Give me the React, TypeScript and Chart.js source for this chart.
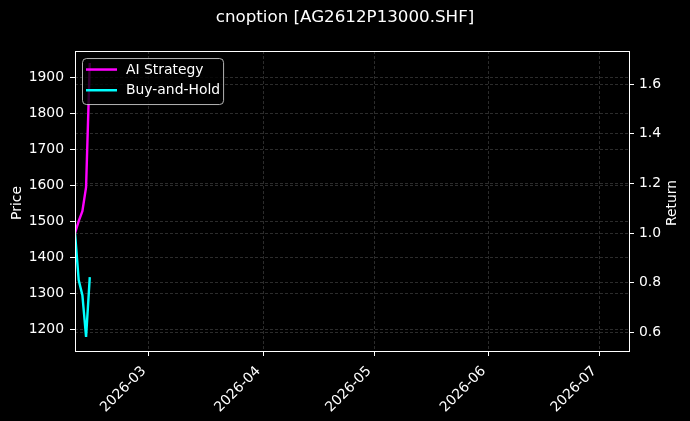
import React, { useEffect, useRef } from 'react';
import { Chart, registerables } from 'chart.js';

Chart.register(...registerables);

const TITLE = 'cnoption [AG2612P13000.SHF]';
const PRICE_LABEL = 'Price';
const RETURN_LABEL = 'Return';

// daily closes
const dates = ['2026-02-09', '2026-02-10', '2026-02-11', '2026-02-12', '2026-02-13'];
const aiStrategy = [1.0, 1.048, 1.088, 1.185, 1.685]; // return axis (right)
const buyAndHold = [1468, 1337, 1295, 1179, 1345]; // price axis (left)

const monthTicks = ['2026-03', '2026-04', '2026-05', '2026-06', '2026-07'];
const priceTicks = [1200, 1300, 1400, 1500, 1600, 1700, 1800, 1900];
const returnTicks = [0.6, 0.8, 1.0, 1.2, 1.4, 1.6];
const xRange = ['2026-02-09', '2026-07-09'];
const priceRange = [1140, 1973];
const returnRange = [0.525, 1.733];

const FONT = '"DejaVu Sans", sans-serif';
const DAY = 86400000;
const toDay = (s: string) => Date.parse(s.length === 7 ? s + '-01' : s) / DAY;

// spines, axis titles and an in-plot legend like matplotlib draws them
const framePlugin = {
  id: 'frame',
  afterDatasetsDraw(chart: any) {
    const { ctx, chartArea: a } = chart;
    ctx.save();
    ctx.strokeStyle = '#ffffff';
    ctx.lineWidth = 1;
    ctx.strokeRect(Math.round(a.left) + 0.5, Math.round(a.top) + 0.5,
      Math.round(a.right) - Math.round(a.left), Math.round(a.bottom) - Math.round(a.top));
    ctx.restore();
  },
  afterDraw(chart: any) {
    const { ctx, chartArea: a, width } = chart;
    const midY = (a.top + a.bottom) / 2 + 2;
    ctx.save();
    ctx.fillStyle = '#ffffff';
    ctx.font = `13.9px ${FONT}`;
    ctx.textAlign = 'center';
    ctx.textBaseline = 'middle';
    ctx.translate(17, midY);
    ctx.rotate(-Math.PI / 2);
    ctx.fillText(PRICE_LABEL, 0, 0);
    ctx.restore();

    ctx.save();
    ctx.fillStyle = '#ffffff';
    ctx.font = `13.9px ${FONT}`;
    ctx.textAlign = 'center';
    ctx.textBaseline = 'middle';
    ctx.translate(width - 18, midY);
    ctx.rotate(-Math.PI / 2);
    ctx.fillText(RETURN_LABEL, 0, 0);
    ctx.restore();

    // legend
    const sets = chart.data.datasets;
    ctx.save();
    ctx.font = `13.9px ${FONT}`;
    const textW = Math.max(...sets.map((d: any) => ctx.measureText(d.label).width));
    const bx = a.left + 7;
    const by = a.top + 7;
    const bw = 44 + textW + 3;
    const bh = 46;
    ctx.beginPath();
    ctx.roundRect(bx + 0.5, by + 0.5, bw, bh, 4);
    ctx.fillStyle = 'rgba(0,0,0,0.8)';
    ctx.fill();
    ctx.strokeStyle = 'rgba(210,210,210,0.85)';
    ctx.lineWidth = 1;
    ctx.stroke();
    sets.forEach((d: any, i: number) => {
      const y = by + 11.5 + i * 20.7;
      ctx.strokeStyle = d.borderColor;
      ctx.lineWidth = 2.5;
      ctx.beginPath();
      ctx.moveTo(bx + 4, y);
      ctx.lineTo(bx + 35, y);
      ctx.stroke();
      ctx.fillStyle = '#ffffff';
      ctx.textAlign = 'left';
      ctx.textBaseline = 'middle';
      ctx.fillText(d.label, bx + 44, y + 0.5);
    });
    ctx.restore();
  },
};

const gridOpts = {
  color: 'rgba(255,255,255,0.22)',
  lineWidth: 0.8,
  tickColor: '#ffffff',
  tickLength: 5,
  tickWidth: 1,
};

export default function App() {
  const canvasRef = useRef<HTMLCanvasElement>(null);
  const chartRef = useRef<Chart | null>(null);

  useEffect(() => {
    if (!canvasRef.current) return;
    if (chartRef.current) chartRef.current.destroy();

    const ctx = canvasRef.current.getContext('2d');
    if (!ctx) return;

    chartRef.current = new Chart(ctx, {
      type: 'line',
      data: {
        datasets: [
          {
            label: 'AI Strategy',
            data: dates.map((d, i) => ({ x: toDay(d), y: aiStrategy[i] })),
            borderColor: '#ff00ff',
            backgroundColor: '#ff00ff',
            borderWidth: 2.4,
            pointRadius: 0,
            tension: 0,
            yAxisID: 'yRet',
          },
          {
            label: 'Buy-and-Hold',
            data: dates.map((d, i) => ({ x: toDay(d), y: buyAndHold[i] })),
            borderColor: '#00ffff',
            backgroundColor: '#00ffff',
            borderWidth: 2.4,
            pointRadius: 0,
            tension: 0,
            yAxisID: 'yPrice',
          },
        ],
      },
      options: {
        responsive: true,
        maintainAspectRatio: false,
        animation: false,
        layout: { padding: 0 },
        plugins: {
          legend: { display: false },
          tooltip: { enabled: false },
          title: {
            display: true,
            text: TITLE,
            color: '#ffffff',
            font: { family: FONT, size: 16.7, weight: 'normal' },
            padding: { top: 8, bottom: 23 },
          },
        },
        scales: {
          x: {
            type: 'linear',
            min: toDay(xRange[0]),
            max: toDay(xRange[1]),
            grid: gridOpts,
            border: { display: false, dash: [3, 2] },
            afterBuildTicks: (scale: any) => {
              scale.ticks = monthTicks.map(m => ({ value: toDay(m) }));
            },
            afterFit: (scale: any) => {
              scale.height = 70;
            },
            ticks: {
              color: '#ffffff',
              font: { family: FONT, size: 13.9 },
              minRotation: 45,
              maxRotation: 45,
              autoSkip: false,
              padding: 7,
              labelOffset: -5,
              callback: (v: any) => monthTicks.find(m => toDay(m) === v) ?? '',
            },
          },
          yPrice: {
            type: 'linear',
            position: 'left',
            min: priceRange[0],
            max: priceRange[1],
            grid: gridOpts,
            border: { display: false, dash: [3, 2] },
            afterBuildTicks: (scale: any) => {
              scale.ticks = priceTicks.map(v => ({ value: v }));
            },
            afterFit: (scale: any) => {
              scale.width = 75;
            },
            ticks: {
              color: '#ffffff',
              font: { family: FONT, size: 13.9 },
              padding: 6,
              callback: (v: any) => String(v),
            },
          },
          yRet: {
            type: 'linear',
            position: 'right',
            min: returnRange[0],
            max: returnRange[1],
            grid: gridOpts,
            border: { display: false, dash: [3, 2] },
            afterBuildTicks: (scale: any) => {
              scale.ticks = returnTicks.map(v => ({ value: v }));
            },
            afterFit: (scale: any) => {
              scale.width = 61;
            },
            ticks: {
              color: '#ffffff',
              font: { family: FONT, size: 13.9 },
              padding: 5,
              callback: (v: any) => Number(v).toFixed(1),
            },
          },
        },
      },
      plugins: [framePlugin],
    } as any);

    return () => {
      if (chartRef.current) {
        chartRef.current.destroy();
        chartRef.current = null;
      }
    };
  }, []);

  return (
    <div style={{ position: 'fixed', left: 0, top: 0, width: 690, height: 421, background: '#000' }}>
      <canvas ref={canvasRef} />
    </div>
  );
}
